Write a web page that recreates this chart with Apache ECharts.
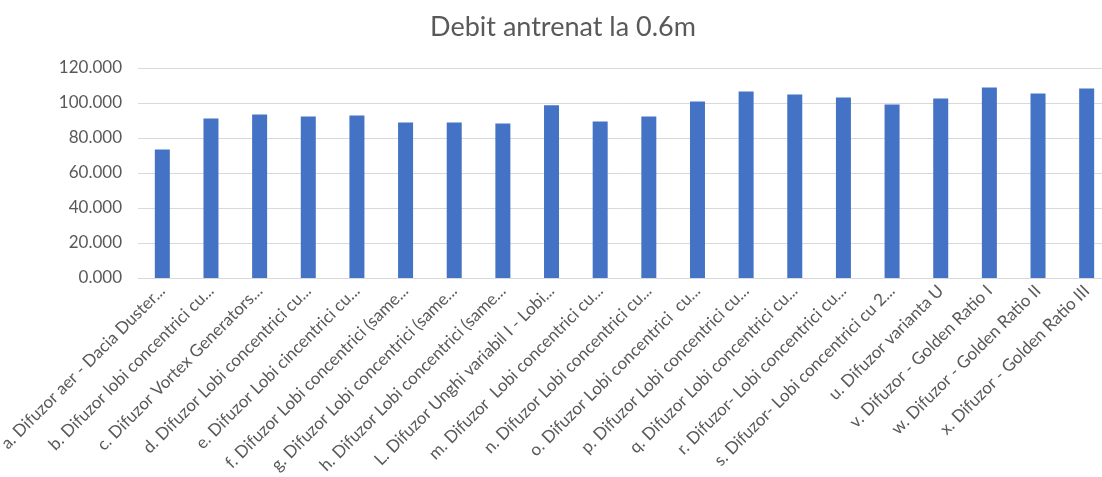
<!DOCTYPE html>
<html>
<head>
<meta charset="utf-8">
<script src="https://cdn.jsdelivr.net/npm/echarts@6/dist/echarts.min.js"></script>
<style>
html,body{margin:0;padding:0;background:#fff;}
#c{width:1102px;height:477px;}
</style>
</head>
<body>
<div id="c"></div>
<script>
var categories = [
  "a. Difuzor aer - Dacia Duster...",
  "b. Difuzor lobi concentrici cu...",
  "c. Difuzor Vortex Generators...",
  "d. Difuzor Lobi concentrici cu...",
  "e. Difuzor Lobi cincentrici cu...",
  "f. Difuzor Lobi concentrici (same...",
  "g. Difuzor Lobi concentrici (same...",
  "h. Difuzor Lobi concentrici (same...",
  "L. Difuzor Unghi variabil I - Lobi...",
  "m. Difuzor  Lobi concentrici cu...",
  "n. Difuzor Lobi concentrici cu...",
  "o. Difuzor Lobi concentrici  cu...",
  "p. Difuzor Lobi concentrici cu...",
  "q. Difuzor Lobi concentrici cu...",
  "r. Difuzor- Lobi concentrici cu...",
  "s. Difuzor- Lobi concentrici cu 2...",
  "u. Difuzor varianta U",
  "v. Difuzor - Golden Ratio I",
  "w. Difuzor - Golden Ratio II",
  "x. Difuzor - Golden Ratio III"
];
var values = [73.4, 91.1, 93.4, 92.3, 92.9, 88.9, 88.9, 88.3, 98.7, 89.4, 92.3, 100.9, 106.6, 104.9, 103.1, 99.1, 102.6, 108.9, 105.4, 108.3];
var titleText = "Debit antrenat la 0.6m";

var chart = echarts.init(document.getElementById('c'));
chart.setOption({
  animation: false,
  title: {
    text: titleText,
    left: 558,
    textAlign: 'center',
    top: 9,
    textStyle: {fontFamily: 'Lato', fontSize: 27, fontWeight: 'normal', color: '#595959'}
  },
  grid: {left: 138, top: 68, width: 973, height: 210, containLabel: false, outerBoundsMode: 'none'},
  xAxis: {
    type: 'category',
    data: categories,
    axisLine: {lineStyle: {color: '#d9d9d9', width: 1}},
    axisTick: {show: false},
    axisLabel: {interval: 0, rotate: 45, margin: 10, fontFamily: 'Lato', fontSize: 17, color: '#595959'}
  },
  yAxis: {
    type: 'value',
    min: 0, max: 120, interval: 20,
    axisLine: {show: false},
    axisTick: {show: false},
    splitLine: {lineStyle: {color: '#d9d9d9', width: 1}},
    axisLabel: {margin: 16, fontFamily: 'Lato', fontSize: 17, color: '#595959',
      formatter: function(v){ return v.toFixed(3); }}
  },
  series: [{
    type: 'bar',
    data: values,
    barWidth: 15,
    itemStyle: {color: '#4472c4'}
  }]
});
</script>
</body>
</html>
